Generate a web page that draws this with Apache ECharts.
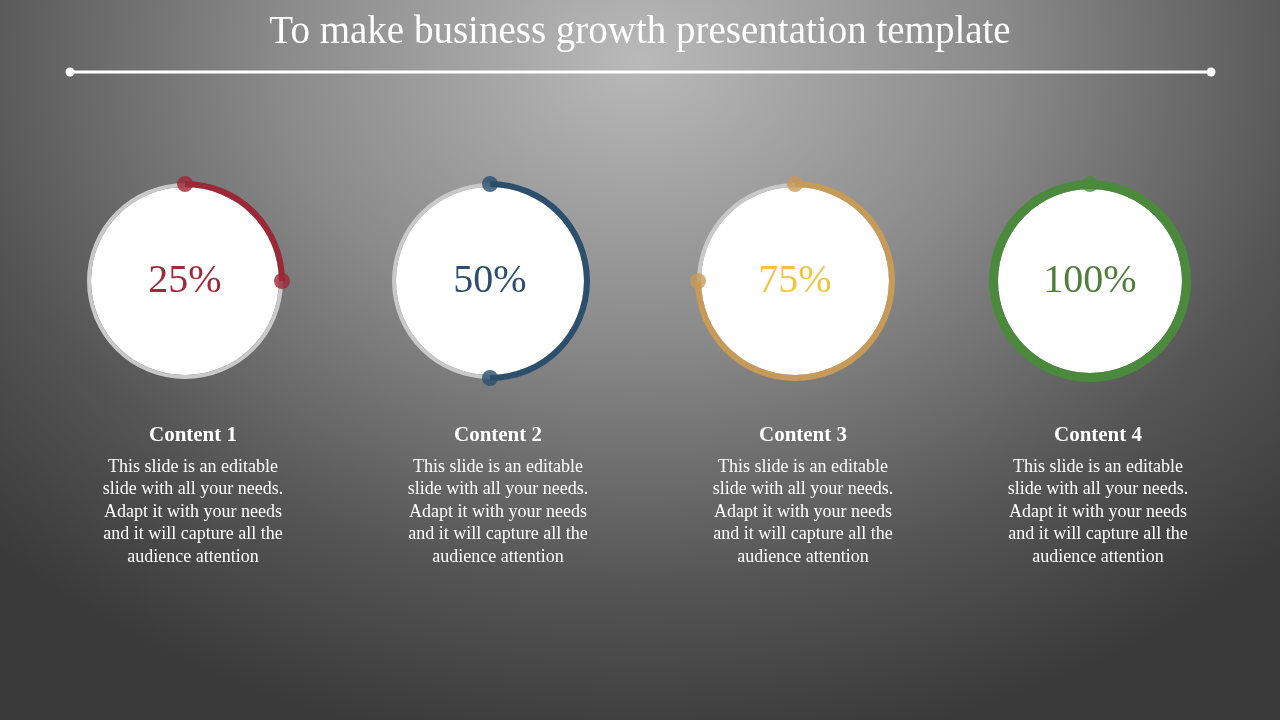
<!DOCTYPE html><html><head><meta charset="utf-8">
<script src="https://cdn.jsdelivr.net/npm/echarts@6/dist/echarts.min.js"></script>
<style>html,body{margin:0;width:1280px;height:720px;overflow:hidden;background:radial-gradient(ellipse 900px 700px at 640px 60px,#b9b9b9 0%,#8a8a8a 40%,#555 75%,#3a3a3a 100%);}#c{width:1280px;height:720px}</style>
</head><body><div id="c"></div><script>
const titleText='To make business growth presentation template';
const categories=['Content 1','Content 2','Content 3','Content 4'];
const values=[25,50,75,100];
const labels=['25%','50%','75%','100%'];
const bodyText='This slide is an editable\nslide with all your needs.\nAdapt it with your needs\nand it will capture all the\naudience attention';
const arcColors=['#9b2836','#2b4f6d','#c79a57','#4b8a3d'];
const textColors=['#a02a38','#2b4f6d','#f3c23e','#4f7f3a'];
const cx=[185,490,795,1090], cy=281;
const F='Liberation Serif, DejaVu Serif, serif';
const polar=[],angleAxis=[],radiusAxis=[],series=[],title=[];
title.push({text:titleText,left:'center',top:8,textStyle:{color:'#fff',fontFamily:F,fontWeight:'normal',fontSize:39}});
values.forEach((v,i)=>{
  const full=v>=100;
  polar.push({center:[cx[i],cy],radius:[94,100]});
  angleAxis.push({polarIndex:i,type:'value',min:0,max:100,startAngle:90,clockwise:true,show:false});
  radiusAxis.push({polarIndex:i,type:'category',data:['r'],show:false});
  series.push({type:'pie',silent:true,center:[cx[i],cy],radius:[0,full?92:94],data:[{value:1,name:labels[i]}],itemStyle:{color:'#fff'},
    label:{position:'center',formatter:labels[i],color:textColors[i],fontFamily:F,fontSize:40,padding:[10,0,0,0]},labelLine:{show:false}});
  if(!full) series.push({type:'pie',silent:true,center:[cx[i],cy],radius:[94,98],data:[1],itemStyle:{color:'#c9c9c9'},label:{show:false}});
  series.push({type:'pie',silent:true,center:[cx[i],cy],radius:full?[92,101]:[94,100],startAngle:90,clockwise:true,
    data:[{value:v,itemStyle:{color:arcColors[i]}},{value:100-v,itemStyle:{color:'rgba(0,0,0,0)'}}],label:{show:false},labelLine:{show:false},z:3});
  series.push({type:'scatter',coordinateSystem:'polar',polarIndex:i,data:full?[['r',0]]:[['r',0],['r',v]],
    symbolSize:16,itemStyle:{color:arcColors[i]},silent:true,z:5});
  title.push({text:categories[i],subtext:bodyText,left:cx[i]+3,top:420,textAlign:'center',itemGap:10,
    textStyle:{color:'#fff',fontFamily:F,fontSize:21,fontWeight:'bold'},
    subtextStyle:{color:'#fff',fontFamily:F,fontSize:18,lineHeight:22.5,align:'center'}});
});
const chart=echarts.init(document.getElementById('c'),null,{renderer:'canvas'});
chart.setOption({backgroundColor:'transparent',title,polar,angleAxis,radiusAxis,series,
  graphic:[{type:'line',shape:{x1:70,y1:72,x2:1211,y2:72},style:{stroke:'#fff',lineWidth:3}},
    {type:'circle',shape:{cx:70,cy:72,r:4.5},style:{fill:'#fff'}},
    {type:'circle',shape:{cx:1211,cy:72,r:4.5},style:{fill:'#fff'}}]});
</script></body></html>
